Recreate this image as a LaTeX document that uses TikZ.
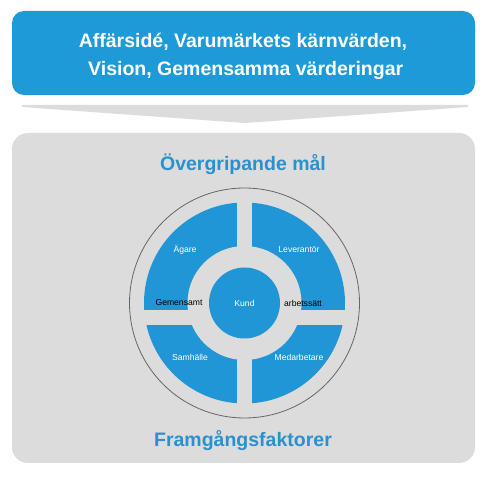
\documentclass[tikz,border=0pt]{standalone}
\usepackage{fontspec}
\setmainfont{Liberation Sans}
\definecolor{boxblue}{HTML}{1D9AD8}
\definecolor{ringblue}{HTML}{2196D6}
\definecolor{titleblue}{HTML}{2A90CE}
\definecolor{panelgray}{HTML}{DCDCDC}
\definecolor{linegray}{HTML}{666666}
\begin{document}
\begin{tikzpicture}[x=1pt,y=-1pt,
  headtext/.style={font=\bfseries\fontsize{19.5}{28}\selectfont, text=white, align=center},
  titletext/.style={font=\bfseries\fontsize{19.5}{24}\selectfont, text=titleblue},
  quadlabel/.style={font=\fontsize{8.6}{10}\selectfont, text=white},
  barlabel/.style={font=\fontsize{8.6}{10}\selectfont, text=black},
]
\useasboundingbox (0,0) rectangle (491,478);
\fill[white] (0,0) rectangle (491,478);
% top blue box
\fill[boxblue, rounded corners=12pt] (12,11) rectangle (475,95);
\node[headtext] (head) at (243,56) {Affärsidé, Varumärkets kärnvärden,\\ \ Vision, Gemensamma värderingar};
% chevron
\fill[panelgray] (22,105) -- (468,105) -- (468,107) -- (245,123) -- (22,107) -- cycle;
% gray panel
\fill[panelgray, rounded corners=16pt] (12,133) rectangle (475,463);
\node[titletext] (top) at (243,164) {Övergripande mål};
\node[titletext] (bottom) at (243,441) {Framgångsfaktorer};
% wheel
\coordinate (c) at (244.5,303);
\draw[linegray, line width=0.8pt, fill=panelgray] (c) circle[radius=115];
\fill[ringblue] (c) circle[radius=100.5];
\fill[panelgray] (c) circle[radius=57];
\fill[panelgray] ([xshift=-7.5]c) ++(0,-102) rectangle ++(15,204);
\fill[panelgray] ([yshift=-7.5]c) ++(-102,0) rectangle ++(204,15);
\fill[ringblue] (c) circle[radius=35.5];
\node[quadlabel] (agare) at (185,250) {Ägare};
\node[quadlabel] (lev) at (299,250) {Leverantör};
\node[quadlabel] (samh) at (190,357) {Samhälle};
\node[quadlabel] (med) at (299,357) {Medarbetare};
\node[quadlabel] (kund) at (c) {Kund};
\node[barlabel] (gem) at (179,303) {Gemensamt};
\node[barlabel] (arb) at (303,303) {arbetssätt};
\end{tikzpicture}
\end{document}
